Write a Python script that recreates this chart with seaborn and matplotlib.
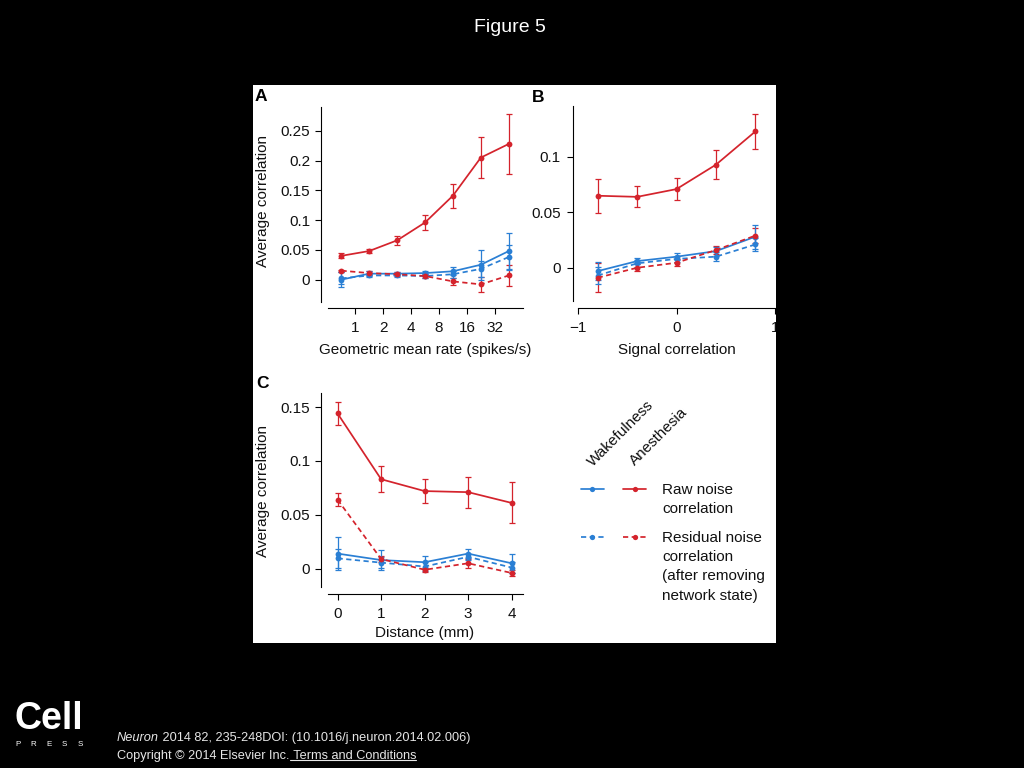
import matplotlib
matplotlib.use("Agg")
import numpy as np
import pandas as pd
import matplotlib.pyplot as plt
from matplotlib.patches import Rectangle
from matplotlib.lines import Line2D
from matplotlib.legend_handler import HandlerTuple
from matplotlib.ticker import NullLocator
import seaborn as sns

# ---------------- data ----------------
# Panel A: geometric mean rate (spikes/s)
rate_x = [0.71, 1.41, 2.83, 5.66, 11.3, 22.6, 45.3]
A_wake_raw = [0.000, 0.010, 0.010, 0.011, 0.014, 0.025, 0.048]
A_wake_raw_err = [0.013, 0.004, 0.003, 0.003, 0.007, 0.025, 0.031]
A_wake_res = [0.002, 0.007, 0.007, 0.006, 0.009, 0.018, 0.038]
A_wake_res_err = [0.010, 0.003, 0.003, 0.003, 0.006, 0.013, 0.020]
A_anes_raw = [0.040, 0.048, 0.066, 0.096, 0.141, 0.205, 0.228]
A_anes_raw_err = [0.004, 0.003, 0.008, 0.012, 0.020, 0.034, 0.050]
A_anes_res = [0.015, 0.011, 0.009, 0.006, -0.003, -0.008, 0.007]
A_anes_res_err = [0.002, 0.003, 0.003, 0.003, 0.006, 0.013, 0.018]

# Panel B: signal correlation
sig_x = [-0.8, -0.4, 0.0, 0.4, 0.8]
B_wake_raw = [-0.003, 0.006, 0.010, 0.015, 0.028]
B_wake_raw_err = [0.008, 0.003, 0.003, 0.004, 0.011]
B_wake_res = [-0.007, 0.004, 0.008, 0.010, 0.021]
B_wake_res_err = [0.008, 0.003, 0.003, 0.004, 0.006]
B_anes_raw = [0.065, 0.064, 0.071, 0.093, 0.123]
B_anes_raw_err = [0.0155, 0.0095, 0.010, 0.013, 0.016]
B_anes_res = [-0.009, 0.000, 0.0045, 0.016, 0.029]
B_anes_res_err = [0.013, 0.003, 0.003, 0.004, 0.007]

# Panel C: distance (mm)
dist_x = [0, 1, 2, 3, 4]
C_wake_raw = [0.014, 0.008, 0.006, 0.014, 0.005]
C_wake_raw_err = [0.015, 0.009, 0.006, 0.004, 0.009]
C_wake_res = [0.0096, 0.0056, 0.002, 0.011, 0.001]
C_wake_res_err = [0.009, 0.005, 0.004, 0.003, 0.005]
C_anes_raw = [0.144, 0.083, 0.072, 0.071, 0.061]
C_anes_raw_err = [0.011, 0.012, 0.0115, 0.0145, 0.019]
C_anes_res = [0.064, 0.009, -0.001, 0.005, -0.004]
C_anes_res_err = [0.006, 0.003, 0.002, 0.004, 0.003]

A_xticks = [1, 2, 4, 8, 16, 32]
A_yticks = [0, 0.05, 0.1, 0.15, 0.2, 0.25]
A_yticklabels = ["0", "0.05", "0.1", "0.15", "0.2", "0.25"]
B_xticks = [-1, 0, 1]
B_xticklabels = ["\u22121", "0", "1"]
B_yticks = [0, 0.05, 0.1]
B_yticklabels = ["0", "0.05", "0.1"]
C_xticks = [0, 1, 2, 3, 4]
C_yticks = [0, 0.05, 0.1, 0.15]
C_yticklabels = ["0", "0.05", "0.1", "0.15"]

states = ["Wakefulness", "Anesthesia"]
kinds = ["Raw", "Residual"]

# ---------------- style ----------------
sns.set_theme(style="ticks")
plt.rcParams["font.family"] = ["Liberation Sans", "DejaVu Sans"]
plt.rcParams.update({
    "axes.edgecolor": "black",
    "axes.linewidth": 0.8,
    "xtick.color": "black",
    "ytick.color": "black",
    "xtick.labelcolor": "#111111",
    "ytick.labelcolor": "#111111",
    "xtick.major.size": 4.3,
    "ytick.major.size": 4.3,
    "xtick.major.width": 0.8,
    "ytick.major.width": 0.8,
    "xtick.labelsize": 11,
    "ytick.labelsize": 11,
    "axes.labelsize": 11,
    "axes.labelcolor": "#111111",
    "text.color": "#111111",
    "axes.facecolor": "white",
})

BLUE = "#2a7fd4"
RED = "#d4232c"
PAL = {"Wakefulness": BLUE, "Anesthesia": RED}
DASH = (3, 2)

W, H = 1024, 768
fig = plt.figure(figsize=(W / 100, H / 100), dpi=100, facecolor="black")


def rect(x0, y0, x1, y1):
    return [x0 / W, 1 - y1 / H, (x1 - x0) / W, (y1 - y0) / H]


# white panel
fig.add_artist(Rectangle((253 / W, 1 - 643 / H), (776 - 253) / W, (643 - 85) / H,
                         transform=fig.transFigure, facecolor="white",
                         edgecolor="none", zorder=-5))


def panel_df(x, series):
    rows = []
    for (state, kind), (vals, errs) in series.items():
        for xi, v, e in zip(x, vals, errs):
            rows.append(dict(x=xi, y=v, err=e, state=state, kind=kind))
    return pd.DataFrame(rows)


def draw(ax, df):
    for (state, kind), g in df.groupby(["state", "kind"]):
        ax.errorbar(g["x"], g["y"], yerr=g["err"], fmt="none", ecolor=PAL[state],
                    elinewidth=0.9, capsize=2.3, capthick=0.9, zorder=2)
    sns.lineplot(data=df, x="x", y="y", hue="state", style="kind",
                 hue_order=states, style_order=kinds, palette=PAL,
                 dashes={"Raw": "", "Residual": DASH},
                 markers={"Raw": "o", "Residual": "o"}, markersize=4.2,
                 markeredgewidth=0, linewidth=1.25, estimator=None, sort=False,
                 legend=False, ax=ax, zorder=3)


def style_axes(ax, left_off, bottom_off, ypad, xpad):
    sns.despine(ax=ax)
    ax.spines["left"].set_position(("outward", left_off))
    ax.spines["bottom"].set_position(("outward", bottom_off))
    ax.tick_params(axis="y", pad=ypad)
    ax.tick_params(axis="x", pad=xpad)
    ax.grid(False)


def label_coords(ax, box, px, py):
    x0, y0, x1, y1 = box
    return (px - x0) / (x1 - x0), (y1 - py) / (y1 - y0)


# ---------------- Panel A ----------------
boxA = (328, 107, 523, 302)
axA = fig.add_axes(rect(*boxA))
axA.set_xscale("log", base=2)
dfA = panel_df(rate_x, {
    ("Wakefulness", "Raw"): (A_wake_raw, A_wake_raw_err),
    ("Wakefulness", "Residual"): (A_wake_res, A_wake_res_err),
    ("Anesthesia", "Raw"): (A_anes_raw, A_anes_raw_err),
    ("Anesthesia", "Residual"): (A_anes_res, A_anes_res_err),
})
draw(axA, dfA)
axA.set_xlim(0.508, 64.4)
axA.set_ylim(-0.0376, 0.29)
axA.set_xticks(A_xticks)
axA.set_xticklabels([str(t) for t in A_xticks])
axA.xaxis.set_minor_locator(NullLocator())
axA.set_yticks(A_yticks)
axA.set_yticklabels(A_yticklabels)
style_axes(axA, 5.0, 4.3, 3.6, 5)
axA.set_xlabel("Geometric mean rate (spikes/s)", va="center")
axA.set_ylabel("Average correlation", va="center")
axA.xaxis.set_label_coords(*label_coords(axA, boxA, 425, 350))
axA.yaxis.set_label_coords(*label_coords(axA, boxA, 263, 201))

# ---------------- Panel B ----------------
boxB = (578, 106, 775, 301)
axB = fig.add_axes(rect(*boxB))
dfB = panel_df(sig_x, {
    ("Wakefulness", "Raw"): (B_wake_raw, B_wake_raw_err),
    ("Wakefulness", "Residual"): (B_wake_res, B_wake_res_err),
    ("Anesthesia", "Raw"): (B_anes_raw, B_anes_raw_err),
    ("Anesthesia", "Residual"): (B_anes_res, B_anes_res_err),
})
draw(axB, dfB)
axB.set_xlim(-1, 1)
axB.set_ylim(-0.030, 0.146)
axB.set_xticks(B_xticks)
axB.set_xticklabels(B_xticklabels)
axB.set_yticks(B_yticks)
axB.set_yticklabels(B_yticklabels)
style_axes(axB, 3.6, 4.8, 4.6, 5)
axB.set_xlabel("Signal correlation", va="center")
axB.set_ylabel("")
axB.xaxis.set_label_coords(*label_coords(axB, boxB, 676.5, 350))

# ---------------- Panel C ----------------
boxC = (328, 393, 523, 587)
axC = fig.add_axes(rect(*boxC))
dfC = panel_df(dist_x, {
    ("Wakefulness", "Raw"): (C_wake_raw, C_wake_raw_err),
    ("Wakefulness", "Residual"): (C_wake_res, C_wake_res_err),
    ("Anesthesia", "Raw"): (C_anes_raw, C_anes_raw_err),
    ("Anesthesia", "Residual"): (C_anes_res, C_anes_res_err),
})
draw(axC, dfC)
axC.set_xlim(-0.22, 4.26)
axC.set_ylim(-0.017, 0.163)
axC.set_xticks(C_xticks)
axC.set_xticklabels([str(t) for t in C_xticks])
axC.set_yticks(C_yticks)
axC.set_yticklabels(C_yticklabels)
style_axes(axC, 5.0, 5.0, 3.6, 5)
axC.set_xlabel("Distance (mm)", va="center")
axC.set_ylabel("Average correlation", va="center")
axC.xaxis.set_label_coords(*label_coords(axC, boxC, 425, 633))
axC.yaxis.set_label_coords(*label_coords(axC, boxC, 263, 491))

# cover anything spilling past the right edge of the white panel
fig.add_artist(Rectangle((776 / W, 1 - 643 / H), (W - 776) / W, (643 - 85) / H,
                         transform=fig.transFigure, facecolor="black",
                         edgecolor="none", zorder=20))

# panel letters
for letter, px, py in [("A", 255, 96.5), ("B", 532, 97), ("C", 256, 383.5)]:
    fig.text(px / W, 1 - py / H, letter, fontsize=12.5, fontweight="bold",
             color="black", ha="left", va="center")

# ---------------- legend ----------------
fig.text(593 / W, 1 - 467 / H, "Wakefulness", rotation=45, rotation_mode="anchor",
         ha="left", va="baseline", fontsize=11, color="#111111")
fig.text(635 / W, 1 - 466 / H, "Anesthesia", rotation=45, rotation_mode="anchor",
         ha="left", va="baseline", fontsize=11, color="#111111")

hw_raw = Line2D([], [], color=BLUE, lw=1.25, marker="o", ms=3.8, mew=0)
ha_raw = Line2D([], [], color=RED, lw=1.25, marker="o", ms=3.8, mew=0)
hw_res = Line2D([], [], color=BLUE, lw=1.25, ls=(0, DASH), marker="o", ms=3.8, mew=0)
ha_res = Line2D([], [], color=RED, lw=1.25, ls=(0, DASH), marker="o", ms=3.8, mew=0)
blank = Line2D([], [], lw=0, alpha=0)

leg_kw = dict(handler_map={tuple: HandlerTuple(ndivide=None, pad=1.3)},
              loc="upper left", frameon=False, borderpad=0, borderaxespad=0,
              handlelength=4.25, handletextpad=1.05, labelspacing=0.34,
              fontsize=11, labelcolor="#111111")
fig.legend(handles=[(hw_raw, ha_raw), blank],
           labels=["Raw noise", "correlation"],
           bbox_to_anchor=(581 / W, 1 - 483 / H), **leg_kw)
fig.legend(handles=[(hw_res, ha_res), blank, blank, blank],
           labels=["Residual noise", "correlation", "(after removing", "network state)"],
           bbox_to_anchor=(581 / W, 1 - 531 / H), **leg_kw)

# ---------------- slide decorations ----------------
fig.text(510 / W, 1 - 27 / H, "Figure 5", fontsize=14, color="white",
         ha="center", va="center")
fig.text(49 / W, 1 - 719 / H, "Cell", fontsize=27, fontweight="bold",
         color="white", ha="center", va="center")
for i, ch in enumerate("PRESS"):
    fig.text((18 + i * 15.5) / W, 1 - 744.5 / H, ch, fontsize=5.8,
             color="white", ha="center", va="center")

fig.canvas.draw()
rend = fig.canvas.get_renderer()
FOOT = "#e6e6e6"
FS = 9.2
t1 = fig.text(117 / W, 1 - 738 / H, "Neuron", fontsize=FS, style="italic",
              color=FOOT, ha="left", va="center")
bb1 = t1.get_window_extent(rend)
fig.text(bb1.x1 / W, 1 - 738 / H, " 2014 82, 235-248DOI: (10.1016/j.neuron.2014.02.006)",
         fontsize=FS, color=FOOT, ha="left", va="center")
t3 = fig.text(117 / W, 1 - 756 / H, "Copyright \u00a9 2014 Elsevier Inc.", fontsize=FS,
              color=FOOT, ha="left", va="center")
bb3 = t3.get_window_extent(rend)
t4 = fig.text(bb3.x1 / W, 1 - 756 / H, " Terms and Conditions", fontsize=FS,
              color=FOOT, ha="left", va="center")
bb4 = t4.get_window_extent(rend)
uy = (bb4.y0 + 2.5) / H
fig.add_artist(Line2D([bb4.x0 / W, bb4.x1 / W], [uy, uy], transform=fig.transFigure,
                      color=FOOT, lw=0.8))

fig.savefig("out.png", dpi=100, facecolor=fig.get_facecolor())
